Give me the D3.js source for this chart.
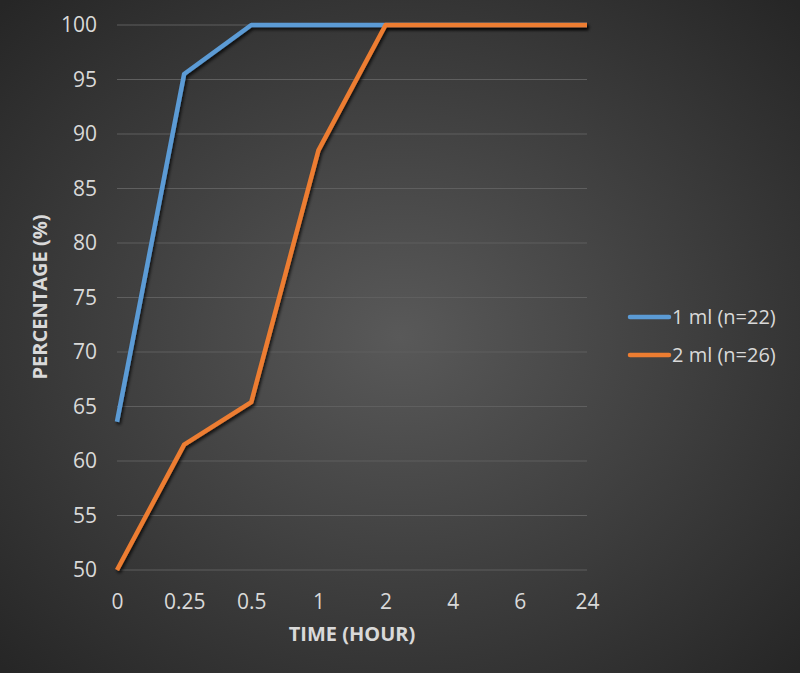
<!DOCTYPE html>
<html>
<head>
<meta charset="utf-8">
<script src="https://cdn.jsdelivr.net/npm/d3@7"></script>
<style>
  body { margin: 0; background: #333; }
  svg { display: block; font-family: "Open Sans", "Noto Sans", sans-serif; }
</style>
</head>
<body>
<svg id="chart" width="800" height="673"></svg>
<script>
// Data
var times = ["0", "0.25", "0.5", "1", "2", "4", "6", "24"];
var oneMl = [63.6, 95.5, 100, 100, 100, 100, 100, 100];
var twoMl = [50, 61.5, 65.4, 88.5, 100, 100, 100, 100];
var yTicks = [50, 55, 60, 65, 70, 75, 80, 85, 90, 95, 100];
var seriesNames = ["1 ml (n=22)", "2 ml (n=26)"];
var colors = ["#5b9bd5", "#ed7d31"];

var svg = d3.select("#chart");

// background radial gradient + line shadow
var defs = svg.append("defs");
var grad = defs.append("radialGradient")
    .attr("id", "bg")
    .attr("cx", "50%").attr("cy", "50%").attr("r", "70%");
grad.append("stop").attr("offset", "0%").attr("stop-color", "#595959");
grad.append("stop").attr("offset", "100%").attr("stop-color", "#262626");

var shadow = defs.append("filter").attr("id", "shadow")
    .attr("x", "-10%").attr("y", "-10%").attr("width", "120%").attr("height", "120%");
shadow.append("feDropShadow")
    .attr("dx", 1.5).attr("dy", 2.5).attr("stdDeviation", 1.5)
    .attr("flood-color", "#000").attr("flood-opacity", 0.75);

svg.append("rect").attr("width", 800).attr("height", 673).attr("fill", "url(#bg)");

var plotLeft = 117, plotRight = 587, plotTop = 25, plotBottom = 570;

var x = d3.scalePoint().domain(times).range([plotLeft, plotRight]);
var y = d3.scaleLinear().domain([50, 100]).range([plotBottom, plotTop]);

// gridlines
svg.append("g")
    .selectAll("line")
    .data(yTicks)
    .join("line")
    .attr("x1", plotLeft).attr("x2", plotRight)
    .attr("y1", function (d) { return y(d); })
    .attr("y2", function (d) { return y(d); })
    .attr("stroke", "#5f5f5f")
    .attr("stroke-width", 1);

// y axis labels
var yAxis = svg.append("g")
    .attr("transform", "translate(" + (plotLeft - 20) + ",0)")
    .call(d3.axisLeft(y).tickValues(yTicks).tickSize(0).tickPadding(0));
yAxis.select(".domain").remove();
yAxis.selectAll("text")
    .attr("fill", "#d9d9d9")
    .style("font-family", "'Open Sans', sans-serif")
    .style("font-size", "21px");

// x axis labels
var xAxis = svg.append("g")
    .attr("transform", "translate(0," + (plotBottom + 24) + ")")
    .call(d3.axisBottom(x).tickSize(0).tickPadding(0));
xAxis.select(".domain").remove();
xAxis.selectAll("text")
    .attr("fill", "#d9d9d9")
    .style("font-family", "'Open Sans', sans-serif")
    .style("font-size", "21px");

// axis titles
svg.append("text")
    .attr("x", 352).attr("y", 641)
    .attr("text-anchor", "middle")
    .attr("fill", "#d9d9d9")
    .style("font-size", "20px")
    .style("font-weight", "bold")
    .text("TIME (HOUR)");

svg.append("text")
    .attr("transform", "translate(47,297) rotate(-90)")
    .attr("text-anchor", "middle")
    .attr("fill", "#d9d9d9")
    .style("font-size", "20px")
    .style("font-weight", "bold")
    .text("PERCENTAGE (%)");

// lines
var line = d3.line()
    .x(function (d, i) { return x(times[i]); })
    .y(function (d) { return y(d); });

[oneMl, twoMl].forEach(function (s, i) {
    svg.append("path")
        .datum(s)
        .attr("fill", "none")
        .attr("stroke", colors[i])
        .attr("stroke-width", 4.5)
        .attr("stroke-linejoin", "round")
        .attr("filter", "url(#shadow)")
        .attr("d", line);
});

// legend
var legend = svg.append("g");
seriesNames.forEach(function (name, i) {
    var ly = 317 + i * 38;
    legend.append("line")
        .attr("x1", 630).attr("x2", 669)
        .attr("y1", ly).attr("y2", ly)
        .attr("stroke", colors[i])
        .attr("stroke-width", 4.5)
        .attr("stroke-linecap", "round");
    legend.append("text")
        .attr("x", 672).attr("y", ly + 7)
        .attr("fill", "#d9d9d9")
        .style("font-size", "20px")
        .text(name);
});
</script>
</body>
</html>
